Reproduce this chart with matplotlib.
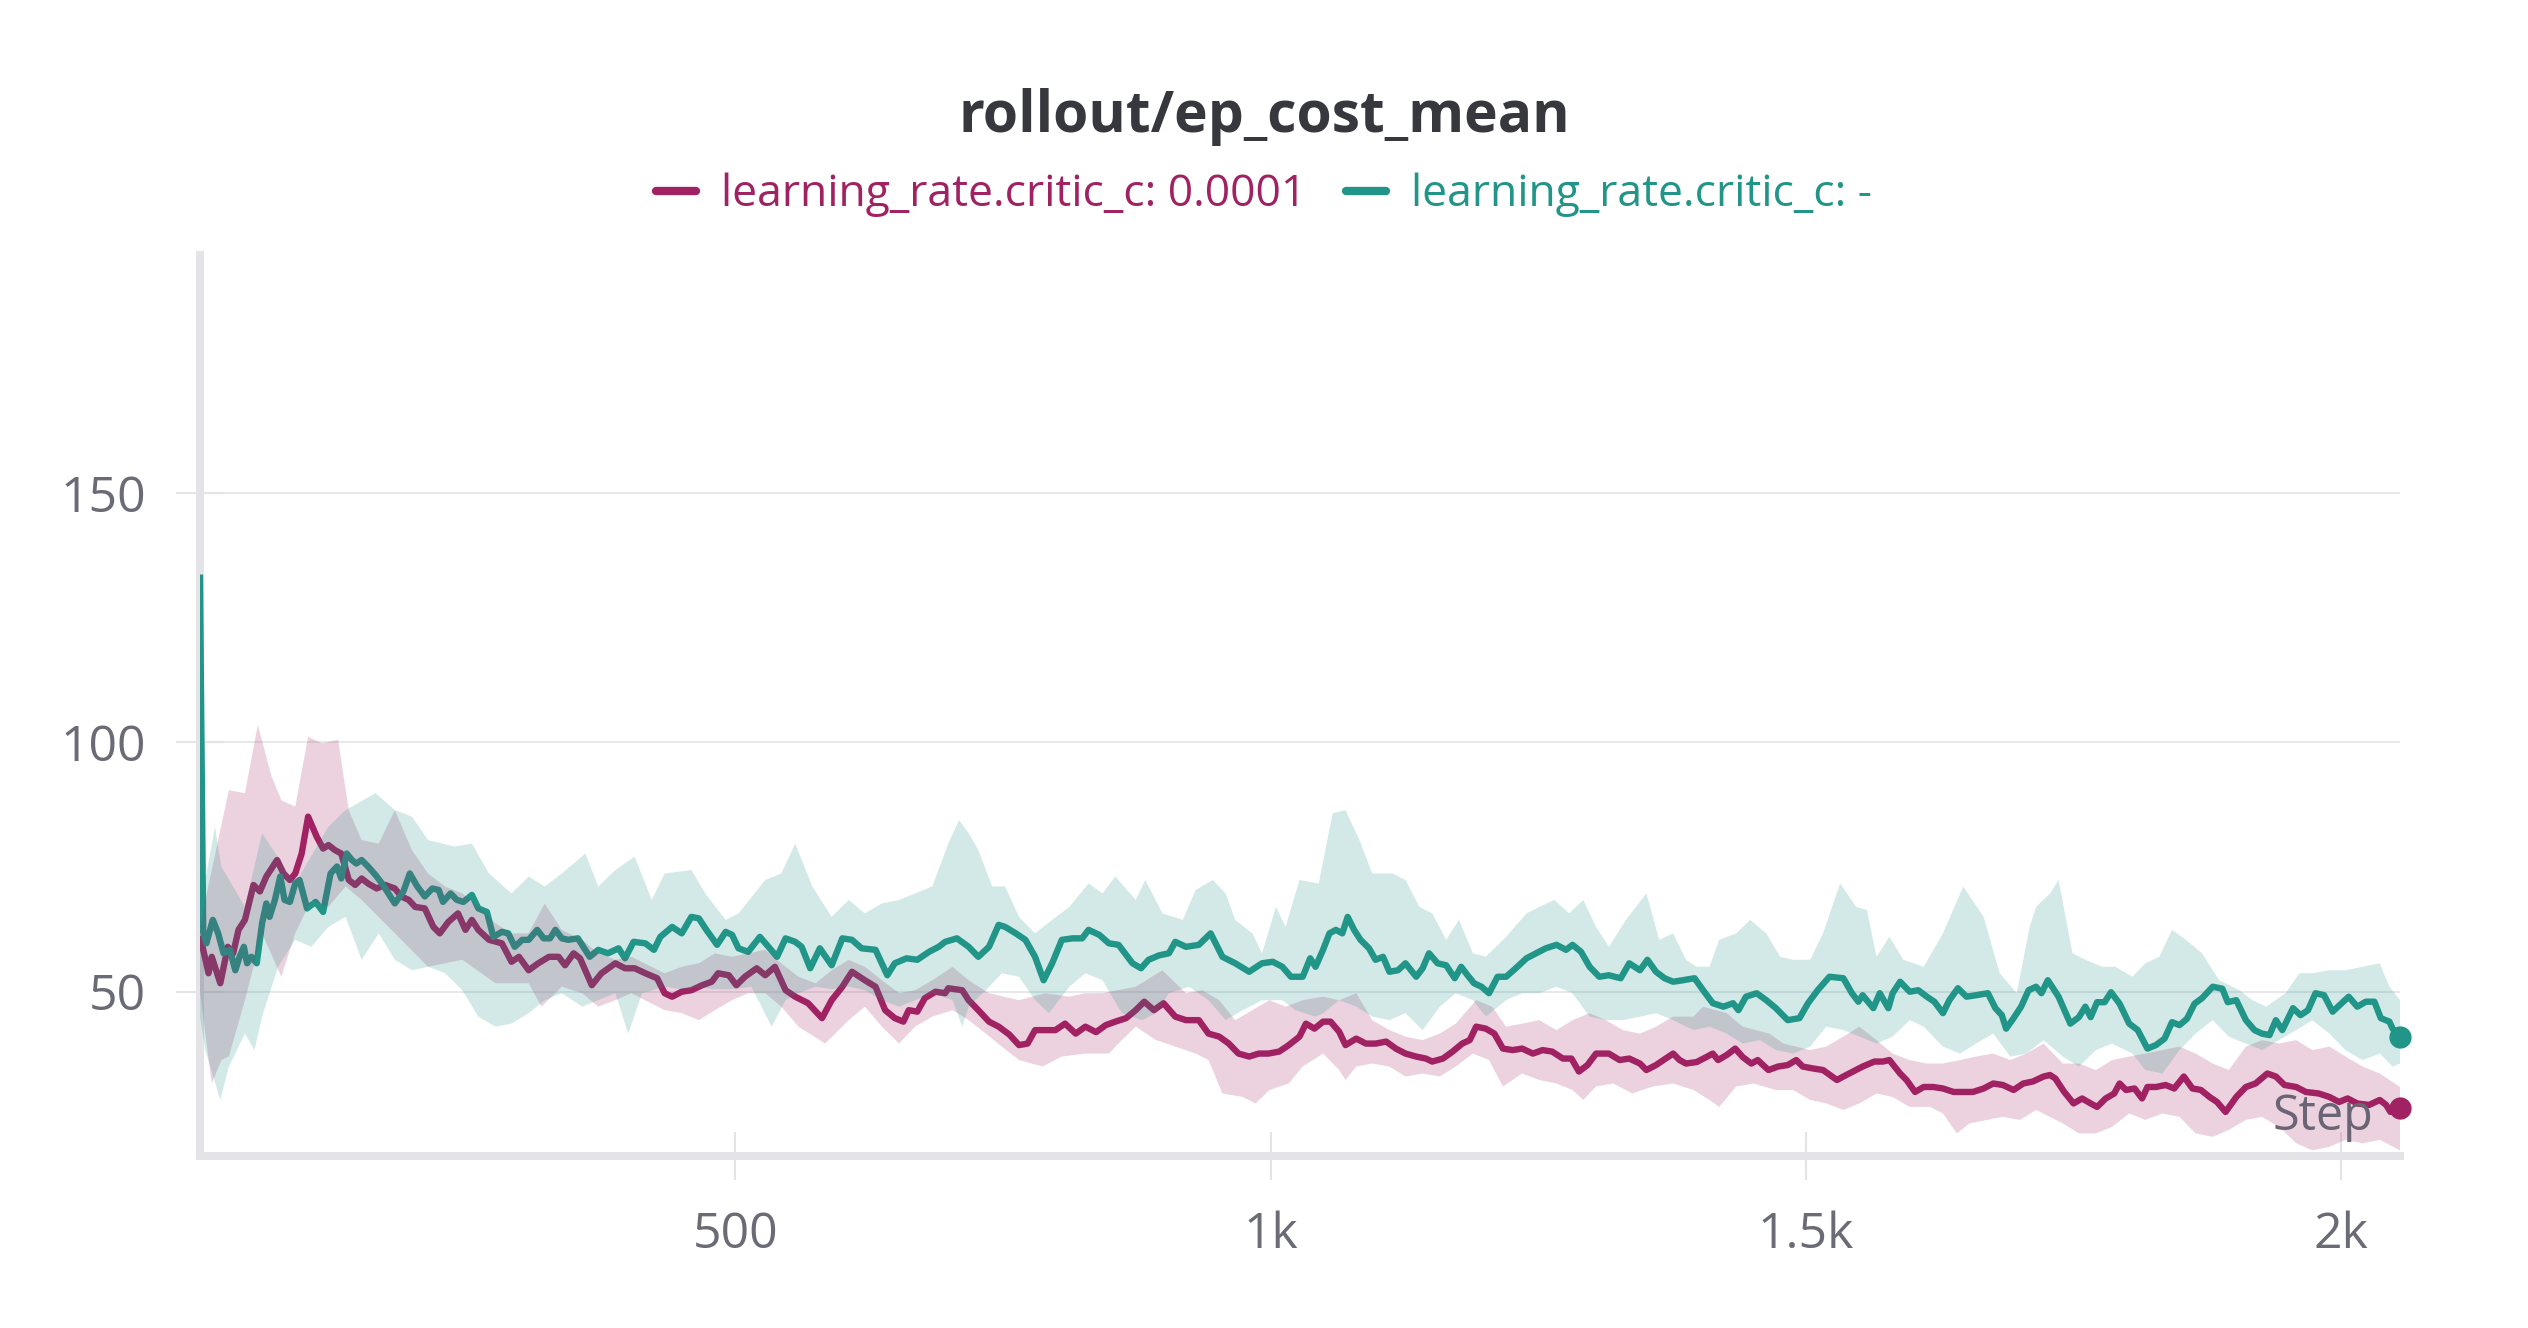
import numpy as np
import matplotlib
matplotlib.use("Agg")
import matplotlib.pyplot as plt
from matplotlib.lines import Line2D

plt.rcParams['font.family'] = ['Open Sans', 'DejaVu Sans']

# --- series: learning_rate.critic_c: 0.0001 (magenta) ---
m_step = [0, 2, 8, 11, 19, 26, 31, 36, 42, 50, 56, 62, 72, 78, 84, 89, 95, 101, 109, 115,
          120, 126, 132, 139, 145, 151, 157, 165, 173, 182, 188, 195, 201, 210, 218, 224, 232, 241, 248, 254,
          260, 270, 282, 291, 298, 307, 316, 326, 335, 341, 349, 355, 366, 375, 388, 397, 406, 416, 427, 434,
          441, 450, 459, 469, 478, 484, 494, 501, 509, 520, 528, 537, 547, 556, 568, 581, 590, 600, 609, 621,
          631, 640, 649, 657, 662, 670, 677, 687, 696, 699, 712, 718, 727, 737, 746, 756, 765, 773, 780, 790,
          799, 808, 818, 827, 837, 846, 855, 865, 874, 882, 891, 900, 911, 921, 933, 942, 952, 961, 970, 980,
          989, 998, 1008, 1017, 1027, 1033, 1041, 1049, 1056, 1064, 1070, 1080, 1089, 1098, 1108, 1117, 1126, 1136, 1145, 1151,
          1161, 1170, 1179, 1186, 1192, 1201, 1209, 1217, 1226, 1235, 1245, 1254, 1263, 1273, 1281, 1288, 1296, 1304, 1316, 1326,
          1335, 1345, 1351, 1360, 1369, 1376, 1382, 1388, 1398, 1407, 1413, 1418, 1426, 1434, 1441, 1449, 1455, 1465, 1474, 1483,
          1491, 1497, 1507, 1516, 1529, 1535, 1544, 1553, 1564, 1572, 1578, 1588, 1594, 1602, 1610, 1619, 1628, 1638, 1647, 1656,
          1666, 1675, 1684, 1694, 1703, 1712, 1722, 1728, 1733, 1741, 1750, 1758, 1766, 1772, 1780, 1788, 1793, 1799, 1807, 1814,
          1819, 1827, 1836, 1844, 1853, 1861, 1869, 1877, 1884, 1892, 1902, 1911, 1920, 1931, 1939, 1947, 1958, 1967, 1979, 1989,
          1998, 2006, 2015, 2026, 2036, 2042, 2046, 2055]
m_cost = [60.5, 59.4, 53.7, 57.0, 51.7, 59.0, 57.7, 62.4, 64.4, 71.4, 70.1, 73.1, 76.4, 73.7, 72.4, 73.7, 77.7, 85.1, 81.1, 78.7,
          79.4, 78.4, 77.7, 72.4, 71.4, 72.7, 71.7, 70.7, 71.4, 70.7, 69.1, 68.4, 67.0, 66.7, 63.0, 61.7, 64.0, 65.7, 62.4, 64.4,
          62.4, 60.4, 59.7, 56.0, 57.0, 54.3, 55.7, 57.0, 57.0, 55.3, 57.7, 56.7, 51.3, 53.7, 55.7, 54.7, 54.7, 53.7, 52.7, 49.7,
          49.0, 50.0, 50.3, 51.3, 52.0, 53.7, 53.3, 51.3, 53.0, 54.7, 53.3, 55.0, 50.3, 49.0, 47.7, 44.7, 48.3, 51.0, 54.0, 52.3,
          51.0, 46.3, 44.7, 44.0, 46.3, 46.0, 48.7, 50.0, 49.7, 50.7, 50.3, 48.3, 46.3, 44.0, 43.0, 41.4, 39.3, 39.6, 42.3, 42.3,
          42.3, 43.6, 41.6, 43.0, 41.9, 43.3, 44.0, 44.7, 46.3, 48.0, 46.3, 47.7, 45.0, 44.3, 44.3, 41.6, 41.0, 39.6, 37.6, 37.0,
          37.6, 37.6, 38.0, 39.3, 41.0, 43.6, 42.6, 44.0, 44.0, 42.0, 39.3, 40.6, 39.6, 39.6, 40.0, 38.6, 37.6, 37.0, 36.6, 36.0,
          36.6, 38.0, 39.6, 40.3, 43.0, 42.6, 41.6, 38.6, 38.3, 38.6, 37.6, 38.3, 38.0, 36.6, 36.6, 34.0, 35.3, 37.6, 37.6, 36.3,
          36.6, 35.6, 34.3, 35.3, 36.6, 37.6, 36.3, 35.6, 35.9, 36.9, 37.6, 36.3, 37.3, 38.6, 36.9, 35.6, 36.3, 34.3, 35.0, 35.3,
          36.3, 35.0, 34.6, 34.3, 32.3, 33.0, 34.0, 35.0, 36.0, 36.0, 36.3, 33.6, 32.3, 29.9, 30.9, 30.9, 30.6, 29.9, 29.9, 29.9,
          30.6, 31.6, 31.3, 30.3, 31.6, 32.0, 33.0, 33.3, 32.6, 30.0, 27.6, 28.6, 27.6, 26.9, 28.6, 29.6, 31.6, 30.3, 30.6, 28.6,
          30.9, 30.9, 31.3, 30.6, 33.0, 30.6, 30.3, 28.9, 27.9, 25.9, 28.9, 30.9, 31.6, 33.6, 33.0, 31.3, 30.9, 29.9, 29.6, 28.9,
          27.9, 28.6, 27.6, 27.3, 28.3, 27.3, 25.9, 26.6]

m_hi_step = [0, 5, 27, 42, 54, 67, 76, 89, 101, 114, 129, 139, 151, 167, 182, 198, 213, 229, 245, 260,
             276, 291, 307, 322, 338, 357, 372, 388, 403, 434, 450, 466, 481, 497, 512, 528, 543, 559, 575, 590,
             606, 621, 637, 653, 668, 684, 703, 718, 737, 765, 790, 812, 827, 843, 874, 899, 921, 936, 952, 967,
             983, 999, 1014, 1030, 1049, 1064, 1080, 1095, 1111, 1126, 1142, 1158, 1173, 1192, 1207, 1220, 1235, 1251, 1267, 1282,
             1298, 1313, 1329, 1345, 1360, 1376, 1395, 1404, 1426, 1441, 1466, 1479, 1504, 1519, 1535, 1550, 1566, 1581, 1597, 1613,
             1628, 1644, 1659, 1675, 1691, 1706, 1722, 1740, 1755, 1771, 1786, 1802, 1817, 1833, 1849, 1864, 1880, 1895, 1911, 1926,
             1942, 1958, 1973, 1989, 2004, 2020, 2036, 2055]
m_hi = [62.0, 68.4, 90.4, 89.8, 103.5, 93.1, 88.4, 87.1, 101.1, 99.8, 100.5, 86.4, 80.4, 79.7, 86.4, 78.4, 73.7, 71.1, 69.7, 67.0,
        63.7, 61.7, 61.7, 67.7, 62.4, 60.4, 57.7, 56.4, 57.0, 53.7, 55.0, 55.7, 57.7, 57.0, 57.7, 58.4, 55.7, 53.0, 51.7, 54.3,
        56.4, 55.0, 52.3, 49.7, 50.3, 52.3, 55.0, 52.3, 49.7, 48.3, 49.7, 49.0, 49.7, 49.7, 51.0, 54.3, 49.7, 50.3, 48.3, 44.3,
        46.3, 48.3, 47.0, 48.3, 49.0, 48.3, 49.7, 44.3, 42.3, 41.0, 40.3, 41.6, 43.6, 48.3, 47.0, 43.0, 43.6, 44.3, 42.3, 44.3,
        45.7, 44.3, 42.3, 41.6, 43.0, 45.0, 45.0, 47.0, 45.7, 43.0, 41.6, 39.6, 38.3, 39.0, 41.0, 43.0, 40.3, 37.6, 36.3, 35.6,
        35.6, 36.3, 37.0, 37.6, 36.3, 37.6, 39.6, 35.6, 35.6, 34.3, 36.3, 37.0, 37.6, 38.3, 39.0, 37.6, 35.6, 34.3, 39.0, 40.3,
        39.6, 40.3, 38.3, 39.0, 37.0, 35.0, 33.6, 30.9]

m_lo_step = [0, 5, 11, 20, 27, 42, 58, 76, 89, 104, 120, 136, 151, 182, 213, 245, 276, 307, 319, 338,
             357, 372, 388, 403, 434, 450, 466, 481, 497, 512, 528, 543, 559, 584, 606, 621, 637, 653, 668, 684,
             703, 718, 734, 749, 765, 787, 805, 827, 849, 861, 874, 893, 911, 930, 942, 955, 974, 986, 999, 1017,
             1030, 1049, 1064, 1070, 1080, 1095, 1111, 1126, 1142, 1158, 1173, 1189, 1204, 1217, 1235, 1251, 1267, 1282, 1292, 1304,
             1320, 1338, 1357, 1376, 1395, 1410, 1419, 1435, 1451, 1472, 1488, 1504, 1519, 1535, 1550, 1566, 1581, 1597, 1616, 1628,
             1641, 1653, 1669, 1684, 1700, 1715, 1740, 1755, 1771, 1786, 1802, 1817, 1833, 1849, 1864, 1880, 1895, 1911, 1926, 1942,
             1958, 1973, 1989, 2004, 2020, 2036, 2055]
m_lo = [50.0, 41.6, 31.6, 36.3, 37.0, 48.3, 61.7, 53.0, 61.7, 68.4, 67.0, 71.1, 68.4, 61.7, 55.0, 56.4, 51.7, 51.7, 47.0, 51.0,
        49.7, 47.0, 48.3, 49.7, 46.3, 45.7, 44.3, 46.3, 48.3, 49.7, 49.7, 47.0, 43.0, 39.6, 44.3, 47.0, 43.0, 39.6, 43.0, 45.0,
        46.3, 44.3, 41.6, 39.0, 36.3, 35.0, 37.0, 37.6, 37.6, 40.3, 43.0, 40.3, 39.0, 37.6, 36.3, 29.6, 28.9, 27.6, 30.3, 31.6,
        35.0, 37.6, 34.3, 32.3, 35.0, 35.6, 35.0, 33.0, 33.6, 33.0, 35.0, 37.6, 36.3, 31.0, 33.6, 32.3, 31.6, 30.3, 28.3, 31.0,
        31.6, 29.6, 31.0, 31.6, 30.3, 28.3, 26.9, 31.0, 31.6, 30.3, 30.3, 28.3, 27.6, 26.3, 27.6, 29.6, 28.9, 26.9, 26.9, 25.6,
        21.6, 23.6, 24.3, 24.9, 24.3, 26.3, 23.6, 21.6, 21.6, 22.9, 25.6, 24.3, 25.6, 24.9, 21.6, 20.9, 22.3, 24.3, 24.9, 22.9,
        19.6, 18.2, 18.9, 20.3, 19.6, 20.3, 18.2]

# --- series: learning_rate.critic_c: - (teal) ---
t_step = [0, 3, 6, 12, 17, 22, 28, 33, 37, 41, 44, 48, 53, 58, 62, 65, 70, 75, 79, 84,
          89, 93, 100, 108, 115, 122, 128, 132, 137, 142, 146, 151, 157, 164, 170, 176, 182, 190, 196, 203,
          210, 217, 223, 227, 234, 240, 246, 254, 260, 268, 274, 282, 288, 294, 301, 307, 315, 321, 327, 332,
          338, 344, 353, 364, 372, 381, 391, 397, 405, 416, 424, 430, 441, 450, 459, 466, 473, 483, 491, 497,
          503, 512, 523, 531, 539, 547, 556, 562, 570, 579, 590, 600, 609, 618, 631, 642, 649, 660, 670, 681,
          690, 696, 707, 718, 727, 737, 746, 752, 762, 771, 780, 788, 796, 805, 815, 824, 830, 840, 849, 858,
          871, 879, 886, 896, 905, 911, 921, 933, 944, 955, 967, 980, 992, 1002, 1011, 1019, 1030, 1037, 1042, 1049,
          1055, 1061, 1067, 1072, 1078, 1084, 1092, 1098, 1105, 1111, 1119, 1126, 1136, 1142, 1148, 1156, 1164, 1172, 1178, 1184,
          1190, 1197, 1204, 1212, 1220, 1229, 1239, 1248, 1257, 1267, 1276, 1282, 1290, 1298, 1307, 1316, 1327, 1335, 1345, 1352,
          1360, 1368, 1376, 1385, 1396, 1404, 1413, 1423, 1432, 1437, 1444, 1454, 1463, 1472, 1483, 1494, 1502, 1511, 1522, 1535,
          1543, 1549, 1553, 1563, 1569, 1577, 1581, 1588, 1597, 1605, 1613, 1620, 1628, 1634, 1642, 1650, 1659, 1670, 1677, 1683,
          1687, 1694, 1701, 1708, 1715, 1720, 1726, 1736, 1747, 1755, 1761, 1766, 1772, 1779, 1785, 1793, 1802, 1810, 1819, 1827,
          1835, 1842, 1849, 1856, 1863, 1870, 1880, 1889, 1894, 1902, 1911, 1919, 1926, 1933, 1939, 1945, 1955, 1962, 1969, 1976,
          1984, 1992, 2000, 2007, 2015, 2023, 2031, 2037, 2045, 2048, 2055]
t_cost = [133.0, 62.0, 59.7, 64.4, 61.7, 57.7, 58.4, 54.3, 57.0, 59.0, 55.7, 57.0, 55.7, 63.7, 67.7, 65.0, 68.4, 73.1, 68.4, 68.0,
          71.7, 72.4, 66.7, 68.0, 66.0, 73.7, 75.1, 72.7, 77.7, 76.4, 75.7, 76.4, 75.1, 73.4, 71.7, 69.7, 67.7, 70.1, 73.7, 71.1,
          69.1, 70.7, 70.4, 68.0, 69.7, 68.4, 68.0, 69.4, 66.7, 66.0, 61.0, 62.0, 61.7, 59.0, 60.4, 60.4, 62.4, 60.7, 60.7, 62.4,
          60.7, 60.4, 60.7, 57.0, 58.4, 57.7, 58.7, 56.7, 60.0, 59.7, 58.4, 61.0, 63.0, 61.7, 65.0, 64.7, 62.4, 59.4, 62.0, 61.4,
          58.7, 58.0, 61.0, 59.0, 57.0, 60.7, 60.0, 59.0, 54.7, 58.7, 55.3, 60.7, 60.4, 58.7, 58.4, 53.3, 55.7, 56.7, 56.4, 58.0,
          59.0, 60.0, 60.7, 59.0, 57.0, 59.0, 63.4, 63.0, 61.7, 60.4, 57.0, 52.3, 55.7, 60.4, 60.7, 60.7, 62.4, 61.4, 59.7, 59.4,
          55.7, 54.7, 56.4, 57.3, 57.7, 60.0, 59.0, 59.4, 61.7, 57.0, 55.7, 54.0, 55.7, 56.0, 55.0, 53.0, 53.0, 56.7, 55.0, 58.4,
          61.7, 62.4, 61.7, 65.0, 62.4, 60.4, 58.7, 56.4, 57.0, 54.0, 54.3, 55.7, 53.0, 54.7, 57.7, 55.7, 55.3, 52.7, 55.0, 53.3,
          51.7, 51.0, 49.7, 53.0, 53.0, 54.7, 56.7, 57.7, 58.7, 59.4, 58.4, 59.4, 58.0, 55.0, 53.0, 53.3, 52.7, 55.7, 54.3, 56.4,
          54.0, 52.7, 52.0, 52.3, 52.7, 50.3, 47.7, 47.0, 47.7, 46.3, 49.0, 49.7, 48.3, 46.7, 44.3, 44.7, 47.7, 50.3, 53.0, 52.7,
          49.7, 48.0, 49.3, 46.7, 49.7, 46.7, 49.7, 52.0, 50.0, 50.3, 49.0, 48.0, 45.7, 48.3, 50.7, 49.0, 49.3, 49.7, 46.7, 45.3,
          42.6, 44.7, 47.0, 50.3, 51.0, 49.7, 52.3, 49.0, 43.6, 44.9, 47.0, 44.9, 47.9, 47.9, 49.9, 47.6, 43.6, 42.3, 38.6, 39.3,
          40.6, 43.9, 43.3, 44.6, 47.6, 48.7, 51.0, 50.6, 47.9, 48.3, 44.3, 42.3, 41.6, 41.3, 44.3, 42.3, 46.7, 45.3, 46.3, 49.7,
          49.3, 46.0, 47.6, 49.0, 47.0, 48.0, 48.0, 44.7, 44.0, 42.6, 40.9]

t_hi_step = [0, 3, 14, 20, 42, 58, 89, 120, 136, 164, 182, 198, 213, 238, 254, 270, 291, 307, 322, 338,
             360, 372, 388, 406, 422, 434, 459, 472, 491, 503, 528, 543, 556, 572, 590, 606, 621, 637, 653, 668,
             684, 699, 709, 718, 727, 740, 752, 765, 780, 796, 812, 830, 843, 855, 874, 883, 899, 918, 930, 946,
             958, 967, 983, 992, 1005, 1014, 1027, 1045, 1058, 1070, 1083, 1095, 1114, 1126, 1139, 1151, 1164, 1176, 1189, 1201,
             1220, 1239, 1251, 1265, 1279, 1292, 1304, 1316, 1332, 1351, 1363, 1376, 1388, 1398, 1410, 1419, 1435, 1448, 1463, 1476,
             1488, 1504, 1516, 1532, 1547, 1557, 1566, 1578, 1591, 1610, 1628, 1647, 1666, 1681, 1697, 1709, 1715, 1728, 1736, 1749,
             1761, 1777, 1789, 1805, 1817, 1830, 1842, 1855, 1870, 1886, 1905, 1917, 1930, 1948, 1961, 1973, 1989, 2004, 2020, 2036,
             2045, 2055]
t_hi = [136.0, 70.0, 83.1, 75.1, 67.0, 81.8, 71.7, 83.1, 86.4, 89.8, 86.4, 85.1, 80.4, 79.1, 79.7, 73.7, 69.7, 73.1, 71.1, 73.7,
        77.7, 71.1, 74.4, 77.1, 68.4, 73.7, 74.4, 69.7, 64.4, 65.7, 72.4, 73.7, 79.7, 71.1, 65.0, 68.4, 65.7, 67.7, 68.4, 69.7,
        71.1, 79.7, 84.4, 81.8, 78.4, 71.1, 71.1, 65.0, 61.7, 64.4, 67.0, 71.7, 69.7, 73.1, 68.4, 72.4, 65.7, 64.4, 70.4, 72.4,
        69.7, 64.4, 61.7, 57.7, 67.0, 63.0, 72.4, 71.7, 85.8, 86.4, 80.4, 73.7, 73.7, 72.4, 67.0, 65.7, 60.4, 64.4, 57.7, 57.0,
        61.0, 65.7, 67.0, 68.4, 65.7, 68.4, 63.0, 59.0, 64.4, 69.7, 60.4, 61.7, 56.4, 55.0, 55.0, 60.4, 61.7, 64.4, 61.7, 57.0,
        56.4, 56.4, 61.7, 71.7, 67.0, 66.4, 57.0, 61.0, 56.4, 55.0, 61.7, 71.1, 65.0, 53.7, 49.7, 63.0, 67.0, 69.7, 72.4, 57.7,
        56.4, 55.0, 55.0, 53.0, 55.7, 57.0, 62.4, 60.4, 57.7, 52.3, 50.3, 48.3, 47.0, 49.7, 53.7, 53.7, 54.3, 54.3, 55.0, 55.7,
        51.0, 48.3]

t_lo_step = [0, 5, 19, 27, 42, 51, 58, 73, 89, 104, 120, 136, 151, 167, 182, 198, 213, 229, 245, 260,
             276, 291, 307, 322, 338, 357, 372, 388, 400, 413, 434, 450, 466, 481, 497, 515, 534, 547, 559, 575,
             590, 606, 621, 637, 653, 668, 684, 703, 712, 718, 734, 749, 765, 780, 793, 812, 827, 843, 861, 880,
             893, 905, 924, 942, 958, 974, 992, 1011, 1023, 1042, 1049, 1064, 1080, 1095, 1111, 1126, 1142, 1158, 1173, 1189,
             1201, 1220, 1235, 1251, 1267, 1282, 1298, 1313, 1329, 1345, 1360, 1376, 1395, 1410, 1426, 1441, 1457, 1472, 1488, 1504,
             1519, 1535, 1550, 1566, 1581, 1597, 1610, 1628, 1644, 1659, 1675, 1691, 1706, 1722, 1740, 1755, 1771, 1786, 1805, 1817,
             1833, 1849, 1864, 1880, 1895, 1911, 1926, 1942, 1958, 1973, 1989, 2004, 2020, 2036, 2048, 2055]
t_lo = [45.0, 38.3, 28.3, 35.0, 41.6, 38.3, 45.0, 55.0, 60.4, 59.0, 63.0, 65.0, 56.4, 61.7, 56.4, 54.3, 55.0, 53.7, 50.3, 45.0,
        43.0, 43.6, 45.7, 48.3, 49.7, 47.0, 48.3, 49.7, 41.6, 49.7, 51.0, 50.5, 50.8, 50.5, 50.5, 51.0, 43.0, 48.3, 49.7, 51.0,
        50.5, 51.0, 50.3, 48.3, 47.0, 48.3, 49.7, 48.3, 43.0, 47.0, 50.3, 53.7, 53.0, 48.3, 45.7, 51.0, 53.7, 52.3, 45.7, 44.3,
        45.7, 49.7, 51.0, 48.3, 44.3, 46.3, 48.3, 48.3, 46.3, 45.0, 45.7, 48.3, 47.0, 45.0, 44.3, 45.7, 42.3, 47.0, 49.7, 48.3,
        45.0, 48.3, 49.7, 49.7, 51.0, 49.7, 45.0, 44.3, 44.3, 45.0, 45.7, 44.3, 42.3, 43.0, 41.6, 39.6, 40.3, 38.3, 37.6, 39.0,
        43.0, 42.3, 41.0, 39.6, 41.0, 44.3, 43.0, 39.0, 37.6, 39.6, 41.6, 37.0, 37.6, 40.3, 37.0, 35.0, 38.3, 39.6, 37.6, 34.3,
        33.6, 38.3, 41.6, 44.3, 41.0, 39.6, 38.3, 40.3, 42.3, 44.3, 41.6, 38.3, 36.3, 37.6, 35.0, 35.6]

x_ticks = [500, 1000, 1500, 2000]
x_tick_labels = ['500', '1k', '1.5k', '2k']
y_ticks = [50, 100, 150]
labels = ['learning_rate.critic_c: 0.0001', 'learning_rate.critic_c: -']

MAGENTA = '#a12262'
TEAL = '#219587'
AXIS = '#e4e4e8'
GRID = '#e8e8eb'
TICKTXT = '#6b6b76'

fig = plt.figure(figsize=(25.28, 13.28), dpi=100)
ax = fig.add_axes([0.0791, 0.1295, 0.8703, 0.6785])

# lines first, bands on top (as the dashboard renders them)
ax.plot(m_step, m_cost, color=MAGENTA, lw=4.6, solid_joinstyle='round', zorder=2)
ax.plot(t_step, t_cost, color=TEAL, lw=4.6, solid_joinstyle='round', zorder=2)
ax.plot(m_step[-1], m_cost[-1], 'o', ms=15, color=MAGENTA, zorder=2, clip_on=False)
ax.plot(t_step[-1], t_cost[-1], 'o', ms=15, color=TEAL, zorder=2, clip_on=False)

ax.fill(np.concatenate([m_hi_step, m_lo_step[::-1]]), np.concatenate([m_hi, m_lo[::-1]]),
        color=MAGENTA, alpha=0.2, lw=0, zorder=3)
ax.fill(np.concatenate([t_hi_step, t_lo_step[::-1]]), np.concatenate([t_hi, t_lo[::-1]]),
        color=TEAL, alpha=0.2, lw=0, zorder=4)

ax.set_xlim(0, 2055)
ax.set_ylim(17.06, 197.7)
ax.set_xticks(x_ticks)
ax.set_xticklabels(x_tick_labels)
ax.set_yticks(y_ticks)
ax.set_yticklabels([str(v) for v in y_ticks])

ax.grid(axis='y', color=GRID, lw=1.5)
ax.set_axisbelow(True)
for s in ['top', 'right']:
    ax.spines[s].set_visible(False)
for s in ['left', 'bottom']:
    ax.spines[s].set_color(AXIS)
    ax.spines[s].set_linewidth(5.8)
    ax.spines[s].set_zorder(1)

ax.tick_params(axis='both', direction='inout', length=34, width=1.5, color=AXIS,
               labelsize=36, labelcolor=TICKTXT, pad=22)

ax.text(0.9877, 0.029, 'Step', transform=ax.transAxes, ha='right', va='baseline',
        fontsize=35, color='#6a6475', zorder=5)

fig.text(0.5, 0.9006, 'rollout/ep_cost_mean', ha='center', va='baseline',
         fontsize=41, fontweight='bold', color='#36383d')

handles = [Line2D([0], [0], color=MAGENTA, lw=6, solid_capstyle='round'),
           Line2D([0], [0], color=TEAL, lw=6, solid_capstyle='round')]
fig.legend(handles, labels, loc='center', bbox_to_anchor=(0.5, 0.853), ncol=2, frameon=False,
           fontsize=32, handlelength=0.9, handletextpad=0.55, columnspacing=0.9,
           labelcolor=[MAGENTA, TEAL])

fig.savefig('out.png', dpi=100)
